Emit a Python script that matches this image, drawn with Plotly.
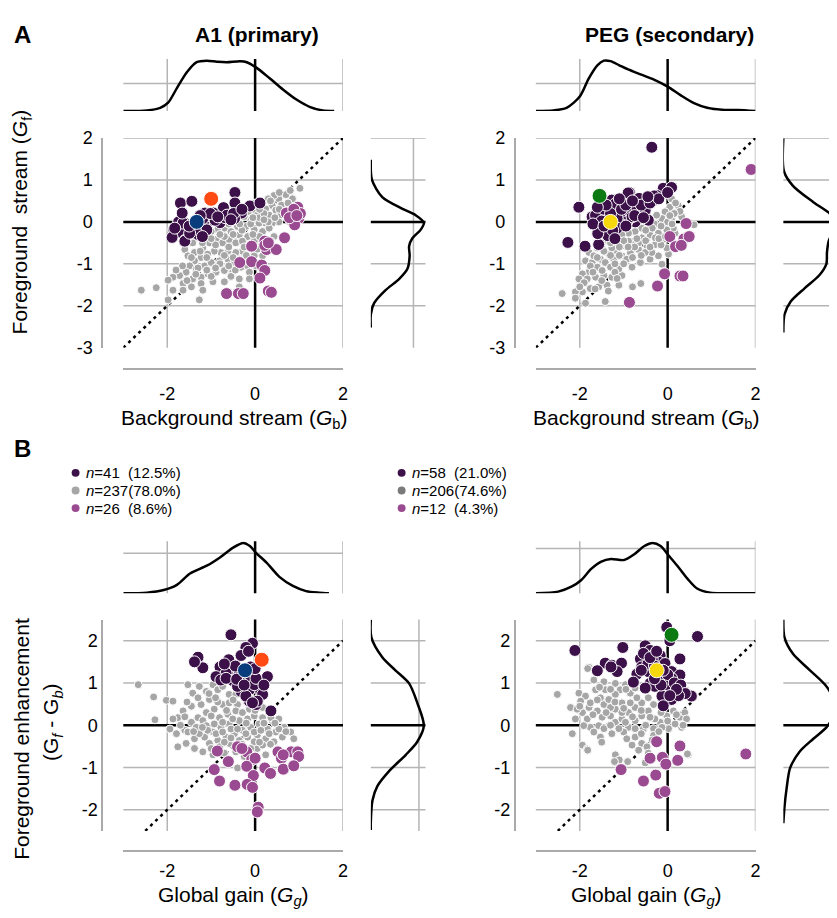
import plotly.graph_objects as go

W, H = 837, 918

# ======================= DATA =======================
# Panel A, A1 (primary): (Gb, Gf)
A_A1_dark = [(-0.46,0.70),(-1.70,0.45),(-1.44,0.49),(-0.72,0.34),(-0.46,0.45),(-0.12,0.38),(0.11,0.45),
             (-0.31,0.21),(-0.47,0.08),(-0.95,0.21),(-1.14,0.21),(-0.80,-0.02),(-1.02,0.04),(-1.59,-0.04),
             (-1.74,0.00),(-1.85,-0.19),(-1.66,-0.27),(-1.89,-0.37),(-1.59,-0.44),(-1.40,-0.27),(-1.17,-0.07),
             (-1.40,-0.19),(-0.68,0.10),(-0.91,0.04),(-1.10,-0.19),(-0.64,0.16),(-1.19,0.08),(-1.64,-0.03),
             (-1.83,-0.15),(-1.60,-0.46),(-1.30,-0.30),(-1.49,-0.27),(-1.66,0.21),(-1.02,0.20),(-0.85,0.12),
             (-0.49,0.20),(-0.30,0.30),(-1.25,0.15),(-1.50,-0.10),(-0.55,0.05),(-1.20,-0.35)]
A_A1_mag = [(0.71,0.21),(0.97,0.35),(0.82,0.04),(0.99,0.08),(0.90,-0.07),(1.03,0.20),(0.67,-0.38),(-0.08,-0.58),
            (0.22,-0.46),(0.26,-0.66),(0.22,-0.56),(0.48,-0.66),(-0.35,-0.97),(-0.08,-0.95),(0.15,-1.03),
            (0.22,-1.16),(0.11,-1.34),(-0.65,-1.71),(-0.38,-1.71),(-0.27,-1.71),(0.30,-1.65),(0.37,-1.68),
            (0.88,0.30),(0.78,0.10),(0.30,-0.50),(0.95,0.15)]
A_A1_gray = [(1.02,0.80),(0.85,0.55),(0.70,0.65),(0.54,0.55),(0.43,0.63),(0.39,0.39),(0.24,0.31),(0.17,0.47),
             (-0.02,0.28),(0.05,0.16),(0.32,0.16),(0.47,0.28),(0.58,0.16),(0.54,0.00),(0.39,-0.03),(0.24,-0.03),
             (0.09,-0.03),(-0.10,0.04),(-0.25,0.12),(-0.44,0.08),(-0.40,-0.11),(-0.21,-0.11),(-0.02,-0.19),
             (0.17,-0.23),(0.32,-0.15),(0.43,-0.35),(0.36,-0.46),(0.13,-0.38),(-0.02,-0.46),(-0.17,-0.35),
             (-0.36,-0.31),(-0.55,-0.23),(-0.70,-0.15),(-0.85,-0.19),(-1.00,-0.23),(-1.15,-0.31),(-1.30,-0.38),
             (-1.42,-0.50),(-1.60,-0.66),(-1.53,-0.81),(-1.38,-0.73),(-1.19,-0.62),(-1.04,-0.50),(-0.89,-0.42),
             (-0.74,-0.50),(-0.59,-0.42),(-0.44,-0.50),(-0.29,-0.46),(-0.13,-0.62),(-0.29,-0.70),(-0.44,-0.73),
             (-0.62,-0.70),(-0.78,-0.73),(-0.93,-0.70),(-1.08,-0.77),(-1.23,-0.85),(-1.38,-0.93),(-1.49,-1.05),
             (-1.34,-1.12),(-1.15,-1.05),(-1.00,-0.97),(-0.81,-0.93),(-0.62,-0.89),(-0.47,-0.97),(-0.32,-1.08),
             (-0.17,-1.05),(-0.13,-1.20),(-0.36,-1.36),(-0.51,-1.20),(-0.70,-1.16),(-0.89,-1.20),(-1.08,-1.24),
             (-1.23,-1.32),(-1.42,-1.36),(-1.57,-1.20),(-1.72,-1.28),(-1.87,-1.32),(-1.98,-1.39),(-1.64,-1.47),
             (-1.45,-1.55),(-1.23,-1.47),(-0.96,-1.43),(-1.19,-1.63),(-1.27,-1.86),(-1.98,-1.86),(-2.59,-1.63),
             (-2.25,-1.57),(-1.87,-1.63),(-1.64,-1.63),(0.17,-0.81),(0.24,-0.66),(-0.02,-0.81),(0.02,-1.05),
             (-0.13,-1.36),(-0.36,-1.55),(-0.70,-1.43),(0.30,0.55),(0.55,0.70),(0.80,0.75),(0.60,0.40),
             (0.75,0.45),(0.65,0.25),(-0.90,-0.55),(-0.70,-0.35),(-0.50,-0.30),(-0.30,-0.20),(-0.10,-0.05),
             (0.10,0.10),(0.30,0.00),(-1.10,-0.85),(-0.60,-0.60),(-0.20,-0.80),(-1.30,-1.10),(-0.80,-1.00),
             (0.00,0.45),(-0.15,0.25),(-1.00,-1.30),(-0.55,-1.30),(0.10,-0.35),(-0.35,-0.90),(0.55,0.30),
             (0.20,0.20),(-0.05,0.10),(0.20,0.05),(0.45,0.10),(0.35,0.50),(0.10,0.30),(-0.35,-0.05),
             (-0.60,-0.05),(-0.80,-0.30),(-1.00,-0.40),(-1.20,-0.50),(-1.25,-0.70),(-1.45,-0.85),(-1.65,-1.05),
             (-1.80,-1.15),(-1.10,-1.15),(-0.90,-1.10),(-0.70,-0.80),(-0.50,-0.85),(-0.25,-0.60),(-0.05,-0.30),
             (0.15,-0.55),(-0.45,-1.15),(-0.60,-1.05),(-1.35,-1.25),(-1.55,-1.40),(0.05,-0.65)]
A_A1_orange = [(-1.00, 0.55)]
A_A1_blue = [(-1.33, 0.00)]

# Panel A, PEG (secondary): (Gb, Gf)
A_PEG_dark = [(-2.02,0.35),(-0.87,0.70),(-0.65,0.56),(-1.27,0.52),(-0.10,0.80),(0.09,0.82),(-0.25,0.63),
              (-0.32,0.51),(-1.72,0.12),(-1.53,0.16),(-1.15,0.32),(-1.00,0.16),(-0.85,0.24),(-0.70,0.35),
              (-0.59,0.20),(-0.44,0.04),(-0.74,0.00),(-0.93,0.00),(-1.04,-0.07),(-1.15,0.08),(-1.60,-0.27),
              (-1.38,-0.31),(-1.15,-0.15),(-1.57,-0.54),(-1.88,-0.58),(-2.27,-0.49),(-1.34,-0.07),(-0.51,0.28),
              (-1.04,0.45),(-1.19,0.43),(-1.64,0.16),(-0.81,0.12),(-0.36,1.78),(-0.31,0.62),(-0.90,0.69),
              (-1.36,-0.33),(-1.59,-0.28),(-1.45,0.30),(-1.30,0.20),(-1.50,0.02),(-1.25,-0.20),(-1.05,0.30),
              (-0.95,0.40),(-0.75,0.15),(-0.60,0.40),(-0.40,0.45),(-0.20,0.55),(-1.40,0.40),(-1.70,-0.05),
              (-1.10,0.55),(-0.80,0.50),(-0.55,0.10),(-1.20,-0.40),(-1.45,-0.10),(-0.45,0.60),(0.00,0.70),
              (-1.60,0.35),(-0.95,-0.10)]
A_PEG_mag = [(1.90,1.25),(0.42,-0.04),(0.05,-0.35),(0.37,-0.41),(0.49,-0.35),(0.18,-0.59),(0.31,-0.56),
             (-0.07,-1.24),(0.28,-1.29),(0.35,-1.29),(-0.23,-1.53),(-0.87,-1.92)]
A_PEG_gray = [(0.09,0.55),(0.24,0.39),(0.05,0.35),(-0.06,0.24),(-0.13,0.08),(0.09,0.04),(0.32,0.12),(0.60,-0.07),
              (-0.25,0.16),(-0.40,-0.04),(-0.59,-0.15),(-0.74,-0.23),(-0.89,-0.27),(-1.04,-0.31),(-1.23,-0.38),
              (-1.42,-0.46),(-1.60,-0.62),(-1.79,-0.73),(-1.87,-0.93),(-1.72,-0.97),(-1.53,-0.89),(-1.34,-0.77),
              (-1.15,-0.70),(-0.96,-0.58),(-0.78,-0.46),(-0.59,-0.38),(-0.40,-0.31),(-0.21,-0.27),(-0.10,-0.42),
              (-0.28,-0.54),(-0.47,-0.58),(-0.66,-0.66),(-0.85,-0.73),(-1.04,-0.81),(-1.23,-0.89),(-1.42,-0.97),
              (-1.60,-1.08),(-1.79,-1.20),(-1.94,-1.24),(-2.02,-1.36),(-1.83,-1.36),(-1.64,-1.32),(-1.45,-1.28),
              (-1.27,-1.32),(-1.38,-1.51),(-1.57,-1.55),(-1.76,-1.59),(-1.94,-1.67),(-2.10,-1.67),(-2.40,-1.71),
              (-1.42,-1.90),(-1.87,-1.94),(-1.11,-1.51),(-1.04,-1.28),(-0.81,-1.08),(-0.62,-0.97),(-0.40,-0.89),
              (-0.21,-0.81),(-0.36,-0.73),(-0.13,-1.01),(0.02,-0.77),(-0.02,-0.62),(-0.80,-1.55),(-0.61,-1.47),
              (0.17,-0.27),(0.13,-0.15),(-1.11,-1.12),(-1.30,-1.08),(-1.49,-1.16),(-0.93,-0.89),(-0.51,-0.73),
              (-0.66,-0.50),(-0.89,-0.46),(-1.08,-0.54),(-1.27,-0.62),(-1.45,-0.70),(-1.68,-0.81),(-1.76,-1.05),
              (-0.28,-0.38),(-0.02,-0.19),(-2.10,-1.82),(0.18,0.45),(0.28,0.25),(0.15,0.20),(0.00,0.00),
              (-0.30,-0.05),(-1.00,-0.45),(-0.75,-0.60),(-1.20,-1.00),(-1.60,-0.85),(-1.30,-0.50),(-0.50,-0.45),
              (-0.35,-0.15),(-0.15,-0.55),(-1.50,-1.40),(-1.10,-0.80),(-0.50,-0.20),(-0.70,-0.40),(-0.90,-0.60),
              (-1.10,-0.60),(-1.30,-0.80),(-1.50,-0.55),(-1.70,-1.20),(-1.90,-1.45),(-1.20,-1.20),(-1.00,-1.00),
              (-0.80,-0.85),(-0.60,-0.80),(-0.40,-0.60),(-0.20,-0.40),(-0.05,-0.35),(0.10,-0.05),(-1.65,-1.60),
              (-1.35,-1.65),(-2.00,-1.55),(-1.15,-1.35),(0.05,0.15),(-0.15,-0.10)]
A_PEG_green = [(-1.55, 0.62)]
A_PEG_yellow = [(-1.30, 0.00)]

# Panel B, A1: (Gg, Gf - Gb)
B_A1_dark = [(-0.55,2.14),(-0.06,1.94),(-0.21,1.84),(-0.32,1.65),(-1.30,1.61),(-1.19,1.36),(-1.38,1.50),
             (-0.80,1.38),(-0.60,1.55),(-0.51,1.30),(-0.66,1.23),(-0.89,1.15),(-0.51,1.06),(-0.29,1.03),
             (-0.10,1.15),(0.09,1.07),(0.28,1.15),(-0.78,1.07),(-0.13,0.84),(-0.32,0.80),(0.13,0.80),
             (-0.02,0.96),(0.17,0.73),(-0.13,0.57),(0.02,0.49),(0.05,0.57),(0.36,0.34),(-0.36,1.23),
             (-0.10,1.38),(0.02,1.11),(-0.40,0.92),(-0.66,1.11),(-0.21,0.69),(-0.06,0.53),(-0.45,1.40),
             (-0.42,1.09),(0.00,1.34),(-0.25,0.95),(0.20,0.95),(-0.15,1.75),(-0.70,1.45)]
B_A1_mag = [(-0.86,-0.61),(-0.40,-0.51),(-0.19,-0.63),(-0.61,-0.86),(-0.93,-1.05),(-0.08,-0.82),(-0.19,-0.97),
            (0.00,-0.78),(0.52,-0.63),(0.60,-0.78),(0.82,-0.63),(0.97,-0.63),(0.99,-0.74),(0.22,-1.01),
            (0.35,-1.14),(0.64,-1.04),(0.88,-0.96),(-0.04,-1.19),(-0.81,-1.32),(-0.46,-1.42),(-0.18,-1.40),
            (-0.06,-1.47),(0.07,-1.94),(0.05,-2.05),(0.64,-0.70),(-0.30,-0.55)]
B_A1_gray = [(-2.66,0.96),(-2.31,0.67),(-2.28,0.13),(-2.02,0.59),(-1.87,0.57),(-1.53,0.96),(-1.27,0.92),
             (-1.42,0.76),(-1.11,0.80),(-0.96,0.96),(-0.85,0.84),(-0.59,0.73),(-1.04,0.61),(-1.23,0.49),
             (-1.45,0.45),(-1.64,0.34),(-1.76,0.18),(-1.87,0.15),(-1.94,-0.09),(-1.79,-0.20),(-1.60,-0.12),
             (-1.45,0.07),(-1.30,0.18),(-1.11,0.30),(-0.93,0.38),(-0.74,0.49),(-0.59,0.53),(-0.40,0.49),
             (-0.44,0.34),(-0.62,0.26),(-0.81,0.18),(-1.00,0.22),(-1.19,0.11),(-1.34,-0.05),(-1.53,-0.16),
             (-1.76,-0.51),(-1.57,-0.43),(-1.38,-0.32),(-1.15,-0.28),(-0.96,-0.16),(-0.78,-0.05),(-0.59,0.03),
             (-0.36,0.11),(-0.17,0.15),(-0.02,0.22),(0.17,0.18),(0.39,0.11),(0.54,0.15),(0.66,-0.05),
             (0.47,-0.16),(0.28,-0.09),(0.09,0.03),(-0.10,-0.05),(-0.29,-0.12),(-0.47,-0.20),(-0.66,-0.28),
             (-0.85,-0.36),(-1.04,-0.43),(-1.19,-0.63),(-0.81,-0.51),(-0.59,-0.43),(-0.36,-0.36),(-0.17,-0.28),
             (0.05,-0.24),(0.24,-0.32),(0.43,-0.39),(0.62,-0.28),(0.81,-0.16),(0.88,-0.32),(0.24,-0.70),
             (0.05,-0.55),(-0.40,-1.01),(-0.44,-0.63),(-0.70,-0.66),(-0.96,-0.70),(-1.38,-0.55),(-0.25,-0.74),
             (-0.29,0.99),(-0.44,0.73),(-0.74,0.92),(0.17,0.42),(0.36,0.18),(-0.13,0.38),(-0.29,0.30),
             (-0.51,0.15),(-0.74,0.07),(-0.93,0.03),(-1.11,-0.01),(-1.27,-0.20),(-1.08,-0.12),(-0.89,-0.20),
             (-0.74,-0.16),(-0.55,-0.09),(-0.40,-0.09),(-0.21,-0.20),(-0.02,-0.16),(0.13,-0.12),(0.32,-0.20),
             (0.54,-0.09),(-0.02,-0.39),(0.17,-0.47),(-0.65,0.35),(-0.85,0.55),(-1.05,0.75),(-1.30,0.65),
             (-1.55,0.55),(-1.70,0.00),(-1.40,-0.15),(-1.20,-0.05),(-0.55,-0.30),(-0.30,-0.45),(-0.10,-0.55),
             (0.10,-0.40),(0.35,-0.45),(0.70,-0.15),(0.45,0.05),(0.20,0.05),(-0.20,0.05),(-0.50,0.60),
             (-0.90,0.65),(-1.00,-0.55),(-0.70,-0.40),(-0.20,0.55),(0.00,0.35),(-1.60,0.20)]
B_A1_orange = [(0.15, 1.55)]
B_A1_blue = [(-0.23, 1.30)]

# Panel B, PEG: (Gg, Gf - Gb)
B_PEG_dark = [(-0.02,2.32),(0.05,2.00),(0.68,2.10),(-2.11,1.77),(-1.02,1.84),(-0.51,1.88),(-0.40,1.77),
              (-0.51,1.65),(-0.32,1.65),(-0.17,1.65),(-0.62,1.57),(-0.21,1.50),(0.28,1.57),(-1.42,1.47),
              (-1.27,1.42),(-1.05,1.47),(-1.15,1.27),(-1.60,1.29),(-0.59,1.38),(-0.44,1.27),(-0.06,1.46),
              (0.09,1.27),(-0.70,1.21),(0.28,1.19),(-0.78,1.02),(-0.40,0.99),(-0.21,1.07),(-0.06,1.07),
              (0.09,1.11),(-0.13,0.84),(0.09,0.80),(-0.13,0.69),(0.09,0.61),(-0.10,0.46),(0.36,0.80),
              (0.54,0.69),(0.17,0.96),(-0.29,0.92),(-0.02,0.96),(-0.51,0.88),(-0.35,1.55),(-0.45,1.45),
              (-0.30,1.40),(0.00,1.20),(0.15,1.00),(0.30,0.95),(-0.15,0.95),(0.40,0.75),(0.25,0.70),
              (-0.60,1.30),(-0.55,1.70),(-1.29,1.38),(0.20,0.85),(-0.40,1.60),(-0.25,1.75),(-0.10,1.30),
              (0.05,0.70),(-0.30,1.10)]
B_PEG_mag = [(-0.25,-0.39),(0.28,-0.49),(-0.12,-0.76),(-0.40,-0.78),(-0.04,-0.92),(0.23,-0.83),(-1.06,-1.05),
             (-0.27,-1.18),(-0.55,-1.32),(-0.19,-1.61),(-0.06,-1.57),(1.78,-0.68)]
B_PEG_gray = [(-2.51,0.73),(-2.21,0.42),(-2.17,-0.20),(-1.79,1.37),(-1.68,1.07),(-2.02,0.76),(-1.87,0.69),
              (-1.98,0.57),(-1.79,0.42),(-1.94,0.30),(-1.83,0.15),(-1.76,-0.05),(-1.91,-0.01),(-1.94,-0.47),
              (-1.83,-0.56),(-1.53,-0.28),(-1.68,-0.16),(-1.57,-0.01),(-1.49,0.19),(-1.60,0.34),(-1.45,0.49),
              (-1.34,0.61),(-1.42,0.84),(-1.45,1.03),(-1.19,0.99),(-1.08,0.84),(-0.96,0.96),(-0.85,0.76),
              (-0.74,0.88),(-1.19,0.73),(-1.04,0.53),(-1.19,0.38),(-1.30,0.22),(-1.34,-0.01),(-1.19,0.07),
              (-1.04,0.15),(-0.89,0.30),(-0.74,0.42),(-0.59,0.53),(-0.44,0.65),(-0.32,0.49),(-0.44,0.34),
              (-0.59,0.22),(-0.74,0.11),(-0.89,-0.05),(-1.00,-0.16),(-0.93,-0.32),(-0.74,-0.28),(-0.81,-0.47),
              (-0.59,-0.43),(-0.66,-0.59),(-0.47,-0.51),(-0.51,-0.89),(-0.44,-0.66),(-0.32,-0.08),(-0.17,0.07),
              (-0.02,0.22),(0.13,0.34),(0.28,0.19),(0.39,0.30),(0.43,0.15),(0.32,-0.05),(0.17,0.03),
              (0.02,-0.08),(-0.13,-0.05),(-0.29,0.15),(-0.55,-0.08),(-0.32,-0.24),(-1.19,-0.70),(-1.19,-0.89),
              (0.47,-0.70),(-2.06,0.38),(-2.10,0.15),(-1.64,0.84),(-1.53,0.65),(-0.85,0.53),(-1.04,0.30),
              (-0.40,0.19),(-0.74,-0.08),(-1.27,-0.20),(-1.45,-0.08),(-1.76,0.53),(-1.30,0.42),(-1.11,-0.08),
              (-0.96,0.07),(-1.82,-0.59),(-1.10,-0.82),(-0.91,-0.86),(0.45,-0.68),(-1.82,1.34),(-1.21,-0.86),
              (-1.60,0.60),(-1.40,0.30),(-1.20,0.55),(-1.00,0.40),(-0.80,0.20),(-0.60,0.35),(-0.50,0.00),
              (-0.35,-0.35),(-0.20,-0.15),(0.00,0.10),(0.20,0.25),(0.35,0.00),(-1.50,-0.40),(-1.30,0.00),
              (-1.70,0.25),(-2.00,0.45),(-0.95,0.85),(-1.30,0.85),(-0.60,-0.20),(-0.15,0.30),(-0.70,0.65),
              (-1.55,0.90)]
B_PEG_green = [(0.09, 2.14)]
B_PEG_yellow = [(-0.25, 1.30)]

# identity lines (y = x)
diag_A = [-3, 2]
diag_B = [-2.5, 2]

# marginal density curves (relative density)
A_A1_top = [(-3.0,0.0),(-2.46,0.01),(-2.16,0.06),(-1.98,0.16),(-1.78,0.44),(-1.55,0.75),(-1.33,0.94),
            (-1.10,0.97),(-0.87,0.95),(-0.65,0.94),(-0.34,0.96),(-0.19,0.94),(0.02,0.84),(0.33,0.63),
            (0.64,0.41),(0.94,0.22),(1.24,0.08),(1.54,0.01),(1.80,0.0)]
A_A1_right = [(1.48,0.0),(1.01,0.02),(0.59,0.21),(0.31,0.58),(0.16,0.82),(-0.02,0.97),(-0.19,0.91),
              (-0.39,0.76),(-0.58,0.70),(-0.81,0.71),(-1.12,0.67),(-1.36,0.52),(-1.63,0.27),(-1.94,0.06),
              (-2.21,0.0),(-2.52,0.0)]
A_PEG_top = [(-3.0,0.0),(-2.6,0.01),(-2.3,0.06),(-2.0,0.28),(-1.8,0.62),(-1.6,0.88),(-1.45,0.97),(-1.3,0.96),
             (-1.1,0.88),(-0.9,0.80),(-0.6,0.70),(-0.3,0.60),(0.0,0.47),(0.3,0.30),(0.6,0.15),(0.9,0.06),
             (1.3,0.02),(1.6,0.02),(2.0,0.0)]
A_PEG_right = [(1.99,0.0),(1.21,0.01),(0.86,0.17),(0.47,0.53),(0.20,0.82),(0.0,0.95),(-0.19,0.89),
               (-0.46,0.80),(-0.73,0.77),(-1.0,0.76),(-1.28,0.63),(-1.59,0.37),(-1.90,0.13),(-2.21,0.02),
               (-2.64,0.0)]
B_A1_top = [(-3.0,0.0),(-2.46,0.01),(-2.08,0.06),(-1.78,0.16),(-1.48,0.38),(-1.10,0.53),(-0.80,0.69),
            (-0.50,0.88),(-0.27,0.97),(-0.12,0.91),(0.02,0.78),(0.26,0.59),(0.56,0.31),(0.86,0.14),
            (1.16,0.04),(1.46,0.01),(1.68,0.0)]
B_A1_right = [(2.50,0.0),(2.08,0.01),(1.61,0.21),(1.30,0.45),(0.99,0.70),(0.53,0.85),(-0.01,0.97),
              (-0.39,0.85),(-0.70,0.64),(-1.09,0.33),(-1.44,0.12),(-1.78,0.03),(-2.28,0.0),(-2.48,0.0)]
B_PEG_top = [(-3.0,0.0),(-2.49,0.03),(-2.19,0.125),(-1.97,0.25),(-1.74,0.47),(-1.51,0.61),(-1.29,0.66),
             (-0.99,0.64),(-0.76,0.75),(-0.53,0.91),(-0.34,0.97),(-0.16,0.91),(0.0,0.75),(0.22,0.53),
             (0.45,0.28),(0.67,0.09),(0.97,0.01),(1.28,0.0),(2.0,0.0)]
B_PEG_right = [(2.50,0.0),(2.08,0.02),(1.69,0.17),(1.30,0.47),(0.92,0.76),(0.53,0.91),(0.22,0.88),
               (-0.05,0.76),(-0.32,0.53),(-0.62,0.29),(-1.01,0.12),(-1.47,0.06),(-1.94,0.02),(-2.32,0.0)]

# tick values / labels
A_yticks = [-3, -2, -1, 0, 1, 2]
A_ylabels = ['-3', '-2', '-1', '0', '1', '2']
B_yticks = [-2, -1, 0, 1, 2]
B_ylabels = ['-2', '-1', '0', '1', '2']
x_ticks = [-2, 0, 2]
x_labels = ['-2', '0', '2']

legend_A1 = ["<i>n</i>=41\u00a0\u00a0(12.5%)", "<i>n</i>=237(78.0%)", "<i>n</i>=26\u00a0\u00a0(8.6%)"]
legend_PEG = ["<i>n</i>=58\u00a0\u00a0(21.0%)", "<i>n</i>=206(74.6%)", "<i>n</i>=12\u00a0\u00a0(4.3%)"]

# ======================= STYLE =======================
COL = dict(dark='#3c1149', gray='#a6a6a6', mag='#9a4a90', orange='#ff4a14', blue='#083c7c',
           green='#0c7a12', yellow='#f6d80c', peg_leg_gray='#7a7a7a')
GRID = '#b5b5b5'
AXLINE = '#aaaaaa'
FONT = 'Liberation Sans, Arial, sans-serif'
LFONT = 'Liberation Sans Narrow, Liberation Sans, Arial, sans-serif'


def fx(p):
    return p / W


def fy(p):
    return 1 - p / H


panels = [
    dict(dark=A_A1_dark, gray=A_A1_gray, mag=A_A1_mag,
         hl=[(A_A1_orange, COL['orange']), (A_A1_blue, COL['blue'])],
         top=A_A1_top, right=A_A1_right, diag=diag_A,
         mx=(116, 337), my=(122.7, 337), ty=(42, 95), rx=(365, 420), lline=95, bline=359,
         yrange=[-3, 2], yticks=A_yticks, ylabels=A_ylabels, ygrid=[-2, -1, 1, 2], tgrid=0.53, rgrid=0.78,
         xstand=8, ystand=5),
    dict(dark=A_PEG_dark, gray=A_PEG_gray, mag=A_PEG_mag,
         hl=[(A_PEG_green, COL['green']), (A_PEG_yellow, COL['yellow'])],
         top=A_PEG_top, right=A_PEG_right, diag=diag_A,
         mx=(531, 752), my=(122.7, 337), ty=(42, 95), rx=(780, 837), lline=510, bline=359,
         yrange=[-3, 2], yticks=A_yticks, ylabels=A_ylabels, ygrid=[-2, -1, 1, 2], tgrid=0.53, rgrid=0.91,
         xstand=8, ystand=5),
    dict(dark=B_A1_dark, gray=B_A1_gray, mag=B_A1_mag,
         hl=[(B_A1_orange, COL['orange']), (B_A1_blue, COL['blue'])],
         top=B_A1_top, right=B_A1_right, diag=diag_B,
         mx=(116, 337), my=(615, 831), ty=(535, 588), rx=(365, 420), lline=95, bline=852,
         yrange=[-2.5, 2.5], yticks=B_yticks, ylabels=B_ylabels, ygrid=[-2, -1, 1, 2], tgrid=0.77, rgrid=0.88,
         xstand=3, ystand=0),
    dict(dark=B_PEG_dark, gray=B_PEG_gray, mag=B_PEG_mag,
         hl=[(B_PEG_green, COL['green']), (B_PEG_yellow, COL['yellow'])],
         top=B_PEG_top, right=B_PEG_right, diag=diag_B,
         mx=(531, 752), my=(615, 831), ty=(535, 588), rx=(780, 837), lline=510, bline=852,
         yrange=[-2.5, 2.5], yticks=B_yticks, ylabels=B_ylabels, ygrid=[-2, -1, 1, 2], tgrid=0.86, rgrid=0.82,
         xstand=3, ystand=0),
]

fig = go.Figure()
layout = {}
shapes = []


def sfx(n):
    return '' if n == 1 else str(n)


def vline(xref, yref, v, color, width):
    return dict(type='line', xref=xref, yref=yref + ' domain', x0=v, x1=v, y0=0, y1=1,
                line=dict(color=color, width=width), layer='below')


def hline(xref, yref, v, color, width):
    return dict(type='line', xref=xref + ' domain', yref=yref, x0=0, x1=1, y0=v, y1=v,
                line=dict(color=color, width=width), layer='below')


for i, p in enumerate(panels):
    nm, nt, nr = 3 * i + 1, 3 * i + 2, 3 * i + 3
    xm, ym = 'x' + sfx(nm), 'y' + sfx(nm)
    xt, yt = 'x' + sfx(nt), 'y' + sfx(nt)
    xr, yr = 'x' + sfx(nr), 'y' + sfx(nr)

    xdom = [fx(p['mx'][0]), fx(p['mx'][1])]
    ydom = [fy(p['my'][1]), fy(p['my'][0])]

    layout['xaxis' + sfx(nm)] = dict(domain=xdom, range=[-3, 2], anchor='free', position=fy(p['bline']),
                                     showline=True, linecolor=AXLINE, linewidth=2, showgrid=False,
                                     zeroline=False, tickvals=x_ticks, ticktext=x_labels, ticks='',
                                     tickfont=dict(size=18, color='black', family=FONT),
                                     ticklabelstandoff=p['xstand'], fixedrange=True)
    layout['yaxis' + sfx(nm)] = dict(domain=ydom, range=p['yrange'], anchor='free', position=fx(p['lline']),
                                     showline=True, linecolor=AXLINE, linewidth=2, showgrid=False,
                                     zeroline=False, tickvals=p['yticks'], ticktext=p['ylabels'], ticks='',
                                     tickfont=dict(size=18, color='black', family=FONT),
                                     ticklabelstandoff=p['ystand'], fixedrange=True)
    layout['xaxis' + sfx(nt)] = dict(domain=xdom, range=[-3, 2], anchor=yt, visible=False, fixedrange=True)
    layout['yaxis' + sfx(nt)] = dict(domain=[fy(p['ty'][1]), fy(p['ty'][0])], range=[0, 1], anchor=xt,
                                     visible=False, fixedrange=True)
    layout['xaxis' + sfx(nr)] = dict(domain=[fx(p['rx'][0]), fx(p['rx'][1])], range=[0, 1], anchor=yr,
                                     visible=False, fixedrange=True)
    layout['yaxis' + sfx(nr)] = dict(domain=ydom, range=p['yrange'], anchor=xr, visible=False, fixedrange=True)

    # grid lines (main)
    for v in [-2, 2]:
        shapes.append(vline(xm, ym, v, GRID, 1.5))
    for v in p['ygrid']:
        shapes.append(hline(xm, ym, v, GRID, 1.5))
    shapes.append(vline(xm, ym, 0, 'black', 2.5))
    shapes.append(hline(xm, ym, 0, 'black', 2.5))
    # top marginal
    for v in [-2, 2]:
        shapes.append(vline(xt, yt, v, GRID, 1.5))
    shapes.append(hline(xt, yt, p['tgrid'], GRID, 1.5))
    shapes.append(vline(xt, yt, 0, 'black', 2.5))
    # right marginal
    for v in p['ygrid']:
        shapes.append(hline(xr, yr, v, GRID, 1.5))
    shapes.append(vline(xr, yr, p['rgrid'], GRID, 1.5))
    shapes.append(hline(xr, yr, 0, 'black', 2.5))

    # identity line
    fig.add_trace(go.Scatter(x=p['diag'], y=p['diag'], mode='lines', xaxis=xm, yaxis=ym,
                             line=dict(color='black', width=2.5, dash='3px,4px'),
                             hoverinfo='skip', showlegend=False))
    # points
    for key, size in [('gray', 8), ('mag', 12), ('dark', 12)]:
        pts = p[key]
        fig.add_trace(go.Scatter(x=[a for a, b in pts], y=[b for a, b in pts], mode='markers',
                                 xaxis=xm, yaxis=ym, showlegend=False,
                                 marker=dict(size=size, color=COL[key], line=dict(color='white', width=1))))
    for pts, c in p['hl']:
        fig.add_trace(go.Scatter(x=[a for a, b in pts], y=[b for a, b in pts], mode='markers',
                                 xaxis=xm, yaxis=ym, showlegend=False,
                                 marker=dict(size=15, color=c, line=dict(color='white', width=1))))
    # marginals
    fig.add_trace(go.Scatter(x=[a for a, b in p['top']], y=[b for a, b in p['top']], mode='lines',
                             xaxis=xt, yaxis=yt, showlegend=False, hoverinfo='skip',
                             line=dict(color='black', width=2.5, shape='spline', smoothing=0.8)))
    fig.add_trace(go.Scatter(x=[b for a, b in p['right']], y=[a for a, b in p['right']], mode='lines',
                             xaxis=xr, yaxis=yr, showlegend=False, hoverinfo='skip',
                             line=dict(color='black', width=2.5, shape='spline', smoothing=0.8)))

# ---------- legends (dots + text) ----------
annotations = []
leg_rows = [465, 483, 501]
for (dx, labels, cols) in [(68, legend_A1, [COL['dark'], COL['gray'], COL['mag']]),
                           (396, legend_PEG, [COL['dark'], COL['peg_leg_gray'], COL['mag']])]:
    for ry, lab, c in zip(leg_rows, labels, cols):
        shapes.append(dict(type='circle', xref='paper', yref='paper',
                           x0=fx(dx - 4), x1=fx(dx + 4), y0=fy(ry + 4), y1=fy(ry - 4),
                           fillcolor=c, line=dict(width=0)))
        annotations.append(dict(text=lab, xref='paper', yref='paper', x=fx(dx + 8), y=fy(ry),
                                xanchor='left', yanchor='middle', showarrow=False,
                                font=dict(size=15, family=LFONT, color='black')))


# ---------- titles / labels ----------
def ann(text, x, y, size, bold=False, angle=0, xanchor='center'):
    t = '<b>' + text + '</b>' if bold else text
    return dict(text=t, xref='paper', yref='paper', x=fx(x), y=fy(y), xanchor=xanchor, yanchor='middle',
                showarrow=False, textangle=angle, font=dict(size=size, family=FONT, color='black'))


annotations += [
    ann('A', 15, 17, 24, bold=True),
    ann('B', 15, 440, 24, bold=True),
    ann('A1 (primary)', 250, 17, 21, bold=True),
    ann('PEG (secondary)', 665, 17, 21, bold=True),
    ann('Background stream (<i>G</i><sub>b</sub>)', 227, 410, 21),
    ann('Background stream (<i>G</i><sub>b</sub>)', 642, 410, 21),
    ann('Global gain (<i>G</i><sub><i>g</i></sub>)', 227, 898, 21),
    ann('Global gain (<i>G</i><sub><i>g</i></sub>)', 642, 898, 21),
    ann('Foreground\u00a0\u00a0stream (<i>G</i><sub>f</sub>)', 14, 208, 21, angle=-90),
    ann('Foreground enhancement', 14, 737, 21, angle=-90),
    ann('(G<sub><i>f</i></sub> - G<sub><i>b</i></sub>)', 45, 720, 21, angle=-90),
]

layout.update(dict(width=W, height=H, margin=dict(l=0, r=0, t=0, b=0), paper_bgcolor='white',
                   plot_bgcolor='white', showlegend=False, shapes=shapes, annotations=annotations,
                   font=dict(family=FONT, color='black')))
fig.update_layout(**layout)
fig.write_html('out.html')
